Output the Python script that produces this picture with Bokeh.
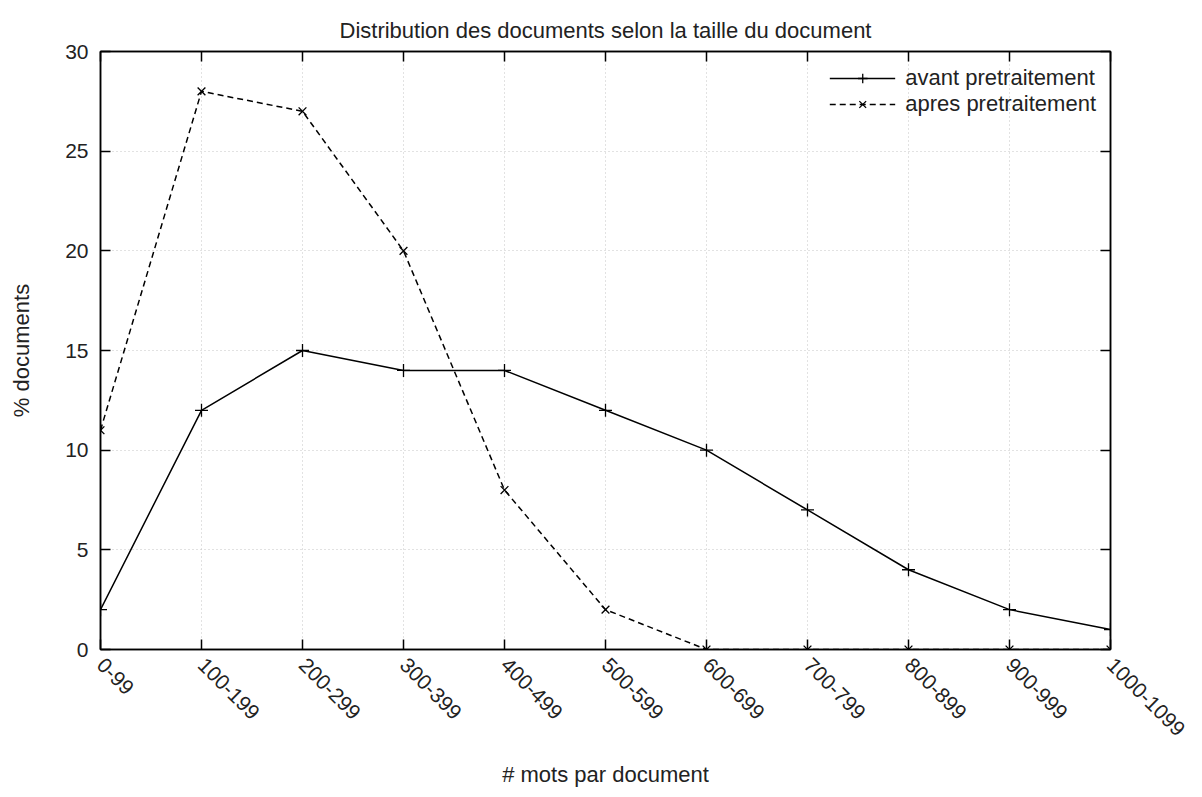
import math
from bokeh.plotting import figure
from bokeh.models import Range1d, LinearAxis, FixedTicker, Legend, LegendItem
from bokeh.embed import file_html
from bokeh.resources import INLINE

categories = ["0-99", "100-199", "200-299", "300-399", "400-499", "500-599",
              "600-699", "700-799", "800-899", "900-999", "1000-1099"]
avant = [2, 12, 15, 14, 14, 12, 10, 7, 4, 2, 1]
apres = [11, 28, 27, 20, 8, 2, 0, 0, 0, 0, 0]
y_ticks = [0, 5, 10, 15, 20, 25, 30]

FONT = "Liberation Sans"
FS = "21px"
xs = list(range(len(categories)))

p = figure(width=1186, height=790, output_backend="svg", toolbar_location=None,
           x_range=Range1d(0, len(categories) - 1), y_range=Range1d(0, 30),
           min_border_left=100, min_border_right=76, min_border_top=51, min_border_bottom=141)

p.title.text = "Distribution des documents selon la taille du document"
p.title.align = "center"
p.title.text_font = FONT
p.title.text_font_size = "22px"
p.title.text_font_style = "normal"
p.title.text_color = "#222222"
p.title.standoff = 18

p.outline_line_color = "black"
p.outline_line_width = 1.5

xt = FixedTicker(ticks=xs)
yt = FixedTicker(ticks=y_ticks)

def style_axis(ax):
    ax.axis_line_color = "black"
    ax.axis_line_width = 1.5
    ax.major_tick_line_color = "black"
    ax.major_tick_line_width = 1.5
    ax.major_tick_in = 10
    ax.major_tick_out = 0
    ax.minor_tick_line_color = None
    ax.major_label_text_font = FONT
    ax.major_label_text_font_size = FS
    ax.major_label_text_color = "#222222"
    ax.axis_label_text_font = FONT
    ax.axis_label_text_font_size = "22px"
    ax.axis_label_text_font_style = "normal"
    ax.axis_label_text_color = "#222222"

p.xaxis.ticker = xt
p.xaxis.major_label_overrides = {i: c for i, c in enumerate(categories)}
p.xaxis.major_label_orientation = -math.pi / 4
p.xaxis.axis_label = "# mots par document"
p.xaxis.axis_label_standoff = 17
p.xaxis.major_label_standoff = 12
style_axis(p.xaxis[0])

p.yaxis.ticker = yt
p.yaxis.axis_label = "% documents"
p.yaxis.axis_label_standoff = 28
p.yaxis.major_label_standoff = 12
style_axis(p.yaxis[0])

top = LinearAxis(ticker=xt, major_label_overrides={i: "" for i in xs})
style_axis(top)
p.add_layout(top, "above")
right = LinearAxis(ticker=yt, major_label_overrides={t: "" for t in y_ticks})
style_axis(right)
p.add_layout(right, "right")

p.xgrid.ticker = xt
p.ygrid.ticker = yt
for g in (p.xgrid[0], p.ygrid[0]):
    g.grid_line_color = "#c4c4c4"
    g.grid_line_dash = "1 3"
    g.grid_line_width = 1

l1 = p.line(xs, avant, line_color="black", line_width=1.5)
m1 = p.scatter(xs, avant, marker="cross", size=13, line_color="black", line_width=1.3)
l2 = p.line(xs, apres, line_color="black", line_width=1.5, line_dash="6 4")
m2 = p.scatter(xs, apres, marker="x", size=11, line_color="black", line_width=1.3)

legend = Legend(items=[LegendItem(label="avant pretraitement", renderers=[l1, m1]),
                       LegendItem(label="apres pretraitement", renderers=[l2, m2])],
                location="top_right", border_line_color=None, background_fill_alpha=0,
                label_text_font=FONT, label_text_font_size="22px", label_text_color="#222222",
                glyph_width=66, spacing=0, padding=2, margin=14,
                label_height=24, glyph_height=24, label_standoff=10)
p.add_layout(legend)

open("out.html", "w").write(file_html(p, INLINE))
